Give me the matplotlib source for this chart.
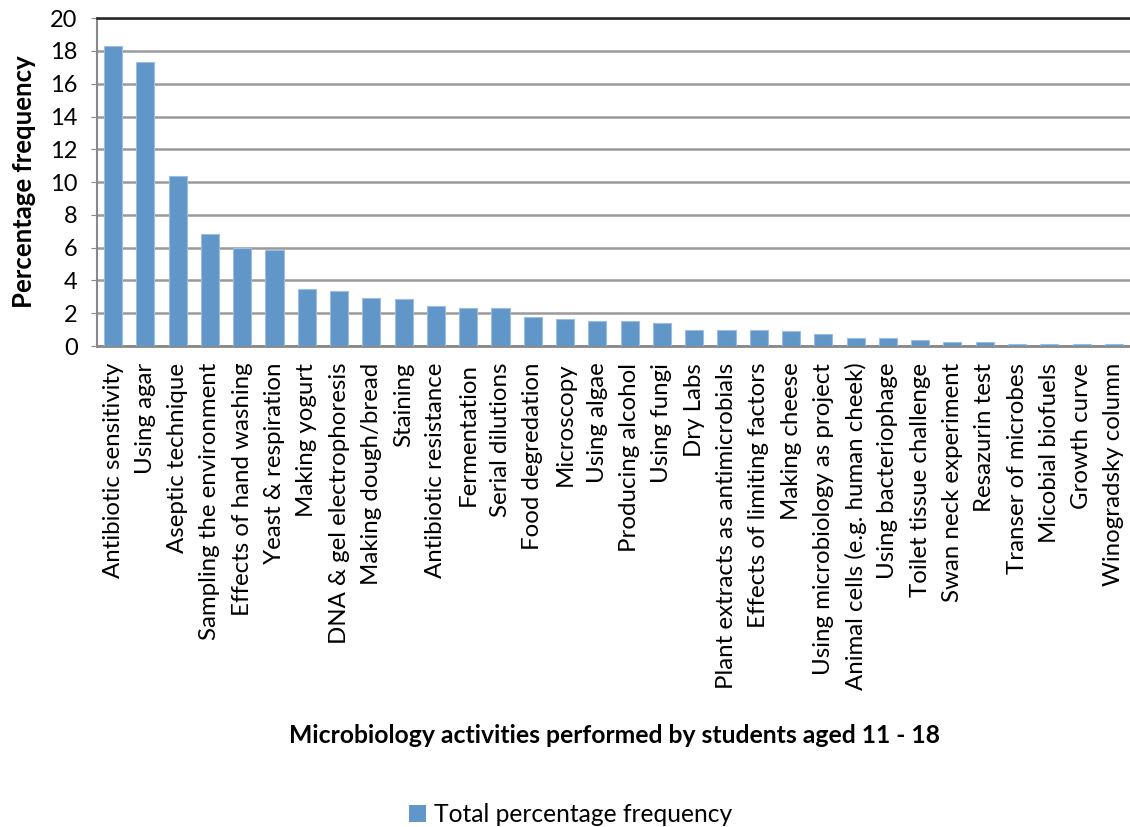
import matplotlib.pyplot as plt
from matplotlib.patches import Patch

plt.rcParams['font.family'] = ['Lato', 'DejaVu Sans']

activities = ["Antibiotic sensitivity", "Using agar", "Aseptic technique",
              "Sampling the environment", "Effects of hand washing",
              "Yeast & respiration", "Making yogurt", "DNA & gel electrophoresis",
              "Making dough/bread", "Staining", "Antibiotic resistance",
              "Fermentation", "Serial dilutions", "Food degredation", "Microscopy",
              "Using algae", "Producing alcohol", "Using fungi", "Dry Labs",
              "Plant extracts as antimicrobials", "Effects of limiting factors",
              "Making cheese", "Using microbiology as project",
              "Animal cells (e.g. human cheek)", "Using bacteriophage",
              "Toilet tissue challenge", "Swan neck experiment", "Resazurin test",
              "Transer of microbes", "Micobial biofuels", "Growth curve",
              "Winogradsky column"]
freq = [18.3, 17.3, 10.4, 6.85, 5.95, 5.85, 3.45, 3.35, 2.95, 2.85, 2.45,
        2.3, 2.3, 1.8, 1.65, 1.5, 1.5, 1.4, 1.0, 1.0, 1.0, 0.9, 0.75,
        0.5, 0.5, 0.35, 0.22, 0.22, 0.1, 0.1, 0.1, 0.1]

fig = plt.figure(figsize=(11.3, 8.27), dpi=100)
ax = fig.add_axes([0.0858, 0.5816, 1.0 - 0.0858, 0.978 - 0.5816])

x = list(range(len(activities)))
ax.bar(x, freq, width=0.56, color='#6196C9', edgecolor='#9CBDE0', linewidth=0.8, zorder=3)

ax.set_xlim(-0.5, len(activities) - 0.5)
ax.set_ylim(0, 20)
ax.set_yticks(range(0, 21, 2))
ax.yaxis.grid(True, color='#9a9a9a', linewidth=1.8, zorder=0)
ax.set_axisbelow(True)

ax.set_xticks(x)
ax.set_xticklabels(activities, rotation=90, fontsize=17.3)
ax.tick_params(axis='x', length=0, pad=12)
ax.tick_params(axis='y', labelsize=17, length=4, color='#888888', direction='out', pad=10)

ax.spines['top'].set_color('#222222')
ax.spines['top'].set_linewidth(1.8)
ax.spines['right'].set_visible(False)
ax.spines['left'].set_color('#888888')
ax.spines['left'].set_linewidth(1.5)
ax.spines['bottom'].set_color('#888888')
ax.spines['bottom'].set_linewidth(2)

ax.set_ylabel('Percentage frequency', fontsize=18.5, fontweight='bold', labelpad=10)
fig.text(0.544, 0.111, 'Microbiology activities performed by students aged 11 - 18',
         ha='center', va='center', fontsize=17.8, fontweight='bold')

handle = Patch(facecolor='#6196C9', edgecolor='none')
fig.legend([handle], ['Total percentage frequency'], loc='center',
           bbox_to_anchor=(0.505, 0.015), frameon=False, fontsize=17.7,
           handlelength=0.7, handleheight=0.7, handletextpad=0.3)

plt.savefig('out.png', dpi=100)
